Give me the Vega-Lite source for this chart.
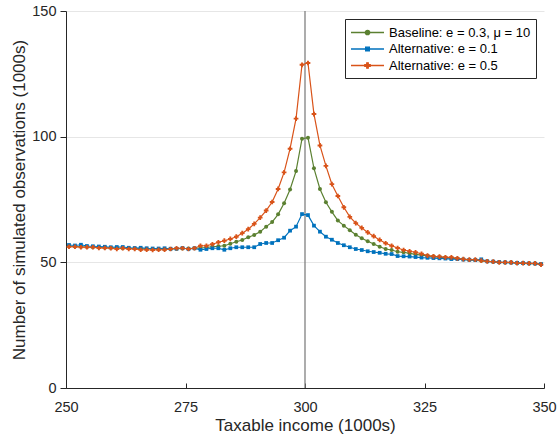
{
"$schema":"https://vega.github.io/schema/vega-lite/v6.json",
"width":478,"height":377,
"autosize":{"type":"none"},
"padding":{"left":66,"top":11,"right":13,"bottom":55},
"config":{"font":"Liberation Sans","view":{"stroke":null},
 "axis":{"domainColor":"#262626","tickColor":"#262626","labelColor":"#262626","titleColor":"#262626","labelFontSize":14.5,"titleFontSize":17,"titleFontWeight":"normal","domainWidth":1,"tickWidth":1,"labelFlush":false}},
"data":{"values":[
{"x":250.625,"s":"base","y":56.4},{"x":251.875,"s":"base","y":56.3},{"x":253.125,"s":"base","y":56.2},{"x":254.375,"s":"base","y":56.1},{"x":255.625,"s":"base","y":56.0},{"x":256.875,"s":"base","y":55.9},{"x":258.125,"s":"base","y":55.8},{"x":259.375,"s":"base","y":55.8},{"x":260.625,"s":"base","y":55.7},{"x":261.875,"s":"base","y":55.6},
{"x":263.125,"s":"base","y":55.6},{"x":264.375,"s":"base","y":55.5},{"x":265.625,"s":"base","y":55.4},{"x":266.875,"s":"base","y":55.4},{"x":268.125,"s":"base","y":55.3},{"x":269.375,"s":"base","y":55.3},{"x":270.625,"s":"base","y":55.3},{"x":271.875,"s":"base","y":55.3},{"x":273.125,"s":"base","y":55.4},{"x":274.375,"s":"base","y":55.5},
{"x":275.625,"s":"base","y":55.5},{"x":276.875,"s":"base","y":55.6},{"x":278.125,"s":"base","y":55.7},{"x":279.375,"s":"base","y":55.9},{"x":280.625,"s":"base","y":56.2},{"x":281.875,"s":"base","y":56.4},{"x":283.125,"s":"base","y":56.6},{"x":284.375,"s":"base","y":57.4},{"x":285.625,"s":"base","y":58.2},{"x":286.875,"s":"base","y":58.9},
{"x":288.125,"s":"base","y":60.0},{"x":289.375,"s":"base","y":60.9},{"x":290.625,"s":"base","y":62.2},{"x":291.875,"s":"base","y":64.2},{"x":293.125,"s":"base","y":66.0},{"x":294.375,"s":"base","y":69.1},{"x":295.625,"s":"base","y":73.5},{"x":296.875,"s":"base","y":79.0},{"x":298.125,"s":"base","y":86.3},{"x":299.375,"s":"base","y":99.2},
{"x":300.625,"s":"base","y":99.6},{"x":301.875,"s":"base","y":87.4},{"x":303.125,"s":"base","y":79.2},{"x":304.375,"s":"base","y":73.9},{"x":305.625,"s":"base","y":70.1},{"x":306.875,"s":"base","y":66.6},{"x":308.125,"s":"base","y":64.6},{"x":309.375,"s":"base","y":62.8},{"x":310.625,"s":"base","y":61.0},{"x":311.875,"s":"base","y":59.6},
{"x":313.125,"s":"base","y":58.4},{"x":314.375,"s":"base","y":57.3},{"x":315.625,"s":"base","y":56.2},{"x":316.875,"s":"base","y":55.3},{"x":318.125,"s":"base","y":54.9},{"x":319.375,"s":"base","y":54.2},{"x":320.625,"s":"base","y":54.0},{"x":321.875,"s":"base","y":53.6},{"x":323.125,"s":"base","y":53.2},{"x":324.375,"s":"base","y":52.9},
{"x":325.625,"s":"base","y":52.6},{"x":326.875,"s":"base","y":52.3},{"x":328.125,"s":"base","y":52.1},{"x":329.375,"s":"base","y":51.9},{"x":330.625,"s":"base","y":51.7},{"x":331.875,"s":"base","y":51.5},{"x":333.125,"s":"base","y":51.2},{"x":334.375,"s":"base","y":51.0},{"x":335.625,"s":"base","y":50.9},{"x":336.875,"s":"base","y":50.6},
{"x":338.125,"s":"base","y":50.4},{"x":339.375,"s":"base","y":50.2},{"x":340.625,"s":"base","y":50.0},{"x":341.875,"s":"base","y":49.9},{"x":343.125,"s":"base","y":49.9},{"x":344.375,"s":"base","y":49.7},{"x":345.625,"s":"base","y":49.6},{"x":346.875,"s":"base","y":49.5},{"x":348.125,"s":"base","y":49.5},{"x":349.375,"s":"base","y":49.3},
{"x":250.625,"s":"a01","y":56.9},{"x":251.875,"s":"a01","y":56.7},{"x":253.125,"s":"a01","y":57.0},{"x":254.375,"s":"a01","y":56.5},{"x":255.625,"s":"a01","y":56.4},{"x":256.875,"s":"a01","y":56.3},{"x":258.125,"s":"a01","y":56.2},{"x":259.375,"s":"a01","y":56.0},{"x":260.625,"s":"a01","y":56.1},{"x":261.875,"s":"a01","y":56.1},
{"x":263.125,"s":"a01","y":55.8},{"x":264.375,"s":"a01","y":55.7},{"x":265.625,"s":"a01","y":55.8},{"x":266.875,"s":"a01","y":55.6},{"x":268.125,"s":"a01","y":55.5},{"x":269.375,"s":"a01","y":55.5},{"x":270.625,"s":"a01","y":55.6},{"x":271.875,"s":"a01","y":55.4},{"x":273.125,"s":"a01","y":55.4},{"x":274.375,"s":"a01","y":55.7},
{"x":275.625,"s":"a01","y":55.3},{"x":276.875,"s":"a01","y":55.6},{"x":278.125,"s":"a01","y":55.0},{"x":279.375,"s":"a01","y":55.3},{"x":280.625,"s":"a01","y":55.6},{"x":281.875,"s":"a01","y":55.6},{"x":283.125,"s":"a01","y":55.0},{"x":284.375,"s":"a01","y":55.6},{"x":285.625,"s":"a01","y":56.0},{"x":286.875,"s":"a01","y":56.0},
{"x":288.125,"s":"a01","y":56.0},{"x":289.375,"s":"a01","y":56.0},{"x":290.625,"s":"a01","y":57.3},{"x":291.875,"s":"a01","y":57.7},{"x":293.125,"s":"a01","y":57.7},{"x":294.375,"s":"a01","y":58.8},{"x":295.625,"s":"a01","y":59.8},{"x":296.875,"s":"a01","y":62.6},{"x":298.125,"s":"a01","y":64.2},{"x":299.375,"s":"a01","y":69.2},
{"x":300.625,"s":"a01","y":68.8},{"x":301.875,"s":"a01","y":64.6},{"x":303.125,"s":"a01","y":62.2},{"x":304.375,"s":"a01","y":60.2},{"x":305.625,"s":"a01","y":59.0},{"x":306.875,"s":"a01","y":57.7},{"x":308.125,"s":"a01","y":56.8},{"x":309.375,"s":"a01","y":56.0},{"x":310.625,"s":"a01","y":55.3},{"x":311.875,"s":"a01","y":54.9},
{"x":313.125,"s":"a01","y":54.4},{"x":314.375,"s":"a01","y":54.1},{"x":315.625,"s":"a01","y":53.8},{"x":316.875,"s":"a01","y":53.4},{"x":318.125,"s":"a01","y":53.3},{"x":319.375,"s":"a01","y":52.5},{"x":320.625,"s":"a01","y":52.4},{"x":321.875,"s":"a01","y":52.3},{"x":323.125,"s":"a01","y":52.1},{"x":324.375,"s":"a01","y":51.9},
{"x":325.625,"s":"a01","y":51.8},{"x":326.875,"s":"a01","y":51.7},{"x":328.125,"s":"a01","y":51.6},{"x":329.375,"s":"a01","y":51.5},{"x":330.625,"s":"a01","y":51.3},{"x":331.875,"s":"a01","y":51.3},{"x":333.125,"s":"a01","y":51.1},{"x":334.375,"s":"a01","y":51.0},{"x":335.625,"s":"a01","y":50.9},{"x":336.875,"s":"a01","y":51.2},
{"x":338.125,"s":"a01","y":50.4},{"x":339.375,"s":"a01","y":50.3},{"x":340.625,"s":"a01","y":50.1},{"x":341.875,"s":"a01","y":50.0},{"x":343.125,"s":"a01","y":49.9},{"x":344.375,"s":"a01","y":49.8},{"x":345.625,"s":"a01","y":49.7},{"x":346.875,"s":"a01","y":49.6},{"x":348.125,"s":"a01","y":49.5},{"x":349.375,"s":"a01","y":49.3},
{"x":250.625,"s":"a05","y":56.2},{"x":251.875,"s":"a05","y":56.2},{"x":253.125,"s":"a05","y":56.0},{"x":254.375,"s":"a05","y":56.0},{"x":255.625,"s":"a05","y":56.0},{"x":256.875,"s":"a05","y":55.7},{"x":258.125,"s":"a05","y":55.7},{"x":259.375,"s":"a05","y":55.6},{"x":260.625,"s":"a05","y":55.3},{"x":261.875,"s":"a05","y":55.6},
{"x":263.125,"s":"a05","y":55.3},{"x":264.375,"s":"a05","y":55.3},{"x":265.625,"s":"a05","y":55.0},{"x":266.875,"s":"a05","y":55.0},{"x":268.125,"s":"a05","y":54.9},{"x":269.375,"s":"a05","y":55.0},{"x":270.625,"s":"a05","y":55.0},{"x":271.875,"s":"a05","y":55.3},{"x":273.125,"s":"a05","y":55.6},{"x":274.375,"s":"a05","y":55.6},
{"x":275.625,"s":"a05","y":55.3},{"x":276.875,"s":"a05","y":55.6},{"x":278.125,"s":"a05","y":56.6},{"x":279.375,"s":"a05","y":56.6},{"x":280.625,"s":"a05","y":57.2},{"x":281.875,"s":"a05","y":58.0},{"x":283.125,"s":"a05","y":58.6},{"x":284.375,"s":"a05","y":59.3},{"x":285.625,"s":"a05","y":60.2},{"x":286.875,"s":"a05","y":61.6},
{"x":288.125,"s":"a05","y":63.2},{"x":289.375,"s":"a05","y":65.3},{"x":290.625,"s":"a05","y":67.8},{"x":291.875,"s":"a05","y":70.6},{"x":293.125,"s":"a05","y":74.0},{"x":294.375,"s":"a05","y":79.2},{"x":295.625,"s":"a05","y":85.8},{"x":296.875,"s":"a05","y":95.2},{"x":298.125,"s":"a05","y":107.2},{"x":299.375,"s":"a05","y":128.6},
{"x":300.625,"s":"a05","y":129.3},{"x":301.875,"s":"a05","y":109.0},{"x":303.125,"s":"a05","y":96.5},{"x":304.375,"s":"a05","y":88.4},{"x":305.625,"s":"a05","y":81.1},{"x":306.875,"s":"a05","y":76.4},{"x":308.125,"s":"a05","y":71.9},{"x":309.375,"s":"a05","y":68.1},{"x":310.625,"s":"a05","y":65.6},{"x":311.875,"s":"a05","y":63.7},
{"x":313.125,"s":"a05","y":61.9},{"x":314.375,"s":"a05","y":60.4},{"x":315.625,"s":"a05","y":58.9},{"x":316.875,"s":"a05","y":57.6},{"x":318.125,"s":"a05","y":56.6},{"x":319.375,"s":"a05","y":55.7},{"x":320.625,"s":"a05","y":54.9},{"x":321.875,"s":"a05","y":54.4},{"x":323.125,"s":"a05","y":54.0},{"x":324.375,"s":"a05","y":53.4},
{"x":325.625,"s":"a05","y":52.7},{"x":326.875,"s":"a05","y":52.4},{"x":328.125,"s":"a05","y":52.3},{"x":329.375,"s":"a05","y":52.0},{"x":330.625,"s":"a05","y":52.0},{"x":331.875,"s":"a05","y":51.6},{"x":333.125,"s":"a05","y":51.3},{"x":334.375,"s":"a05","y":51.1},{"x":335.625,"s":"a05","y":51.1},{"x":336.875,"s":"a05","y":50.7},
{"x":338.125,"s":"a05","y":50.4},{"x":339.375,"s":"a05","y":50.3},{"x":340.625,"s":"a05","y":50.0},{"x":341.875,"s":"a05","y":50.0},{"x":343.125,"s":"a05","y":50.0},{"x":344.375,"s":"a05","y":49.7},{"x":345.625,"s":"a05","y":49.7},{"x":346.875,"s":"a05","y":49.6},{"x":348.125,"s":"a05","y":49.6},{"x":349.375,"s":"a05","y":49.1}
]},
"layer":[
{"data":{"values":[{"x":300}]},"mark":{"type":"rule","color":"#808080","strokeWidth":1.3},
 "encoding":{"x":{"field":"x","type":"quantitative","scale":{"domain":[250,350],"nice":false}}}},
{"mark":{"type":"line","strokeWidth":1.2},
 "encoding":{
  "x":{"field":"x","type":"quantitative","scale":{"domain":[250,350],"nice":false},
   "axis":{"values":[250,275,300,325,350],"grid":false,"tickSize":-5,"labelPadding":17,"title":"Taxable income (1000s)","titlePadding":4}},
  "y":{"field":"y","type":"quantitative","scale":{"domain":[0,150],"nice":false},
   "axis":{"values":[0,50,100,150],"grid":true,"gridColor":"#e6e6e6","tickSize":6,"labelPadding":4,"title":"Number of simulated observations (1000s)","titlePadding":3}},
  "color":{"field":"s","type":"nominal","scale":{"domain":["base","a01","a05"],"range":["#5B8031","#0072BD","#D95319"]},
   "legend":{"title":null,"orient":"top-right","offset":8,"symbolType":"stroke","symbolSize":225,"symbolStrokeWidth":1.3,"labelFontSize":13,"labelColor":"#000000","strokeColor":"#262626","fillColor":"#ffffff","padding":5,"rowPadding":0.5,"labelOffset":22,
    "labelExpr":"datum.value == 'base' ? 'Baseline: e = 0.3, μ = 10' : datum.value == 'a01' ? 'Alternative: e = 0.1' : 'Alternative: e = 0.5'",
    "encode":{"symbols":{"update":{
      "shape":{"signal":"datum.value == 'base' ? 'M-1,0H3.4M0.91,0A0.29,0.29 0 1,0 1.49,0A0.29,0.29 0 1,0 0.91,0Z' : datum.value == 'a01' ? 'M-1,0H3.4M0.95,-0.25H1.45V0.25H0.95Z' : 'M-1,0H3.4M0.84,-0.1H1.56V0.1H0.84ZM1.1,-0.36H1.3V0.36H1.1Z'"},
      "fill":{"scale":"color","field":"value"},
      "stroke":{"scale":"color","field":"value"}}}}}}}},
{"transform":[{"filter":"datum.s == 'base'"}],"mark":{"type":"point","filled":true,"opacity":1,"size":16,"shape":"circle"},
 "encoding":{"x":{"field":"x","type":"quantitative"},"y":{"field":"y","type":"quantitative"},"color":{"field":"s","type":"nominal"}}},
{"transform":[{"filter":"datum.s == 'a01'"}],"mark":{"type":"point","filled":true,"opacity":1,"size":14,"shape":"square"},
 "encoding":{"x":{"field":"x","type":"quantitative"},"y":{"field":"y","type":"quantitative"},"color":{"field":"s","type":"nominal"}}},
{"transform":[{"filter":"datum.s == 'a05'"}],"mark":{"type":"point","filled":true,"opacity":1,"size":22,"shape":"cross"},
 "encoding":{"x":{"field":"x","type":"quantitative"},"y":{"field":"y","type":"quantitative"},"color":{"field":"s","type":"nominal"}}}
]
}
